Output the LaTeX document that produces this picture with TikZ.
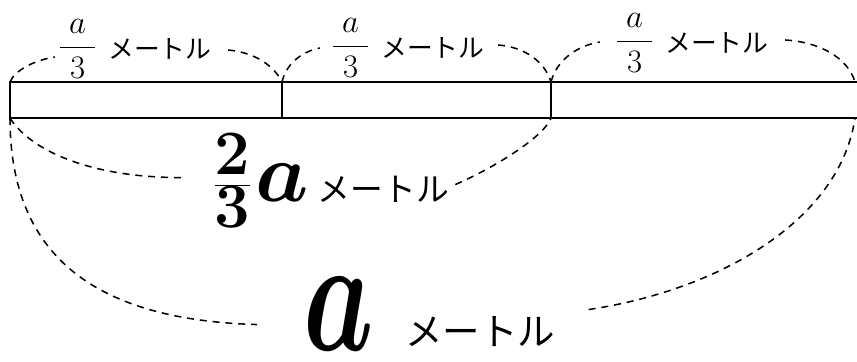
\RequirePackage{fix-cm}
\documentclass[tikz,border=0pt]{standalone}
\usepackage{amsmath,bm}
\usepackage{graphicx}
\usepackage{fontspec}
\newfontfamily\jpfont{Noto Sans CJK JP}
\usetikzlibrary{calc}
\newcommand{\fsz}[1]{\fontsize{#1pt}{#1pt}\selectfont}
\newcommand{\thirdlabel}{$\dfrac{\;a\;}{\;3\;}$\hspace{10pt}\raisebox{-2.5pt}{\jpfont\fsz{22}メートル}}
\newcommand{\twothirdslabel}{{\fsz{54}$\bm{\tfrac{\textstyle 2}{\textstyle 3}}$}\hspace{3pt}{\fsz{72}$\bm{a}$}\hspace{8pt}{\jpfont\fsz{28}メートル}}
\newcommand{\wholelabel}{\scalebox{0.85}[1.25]{\fsz{112}$\bm{a}$}\hspace{27pt}\raisebox{4pt}{\jpfont\fsz{32}メートル}}

\begin{document}
\begin{tikzpicture}[x=0.03cm,y=-0.03cm,
    dimarc/.style={line width=1.3pt,dash pattern=on 6pt off 5pt},
    barline/.style={line width=1.5pt},
    thirdlbl/.style={inner xsep=3pt,inner ysep=0pt,font=\fsz{28}}]
  \useasboundingbox (0,0) rectangle (857,362);
  % the bar, cut in three
  \coordinate (tl) at (10,82);
  \coordinate (bl) at (10,118);
  \coordinate (tr) at (857,82);
  \coordinate (br) at (857,118);
  \coordinate (m1t) at (282,82);
  \coordinate (m1b) at (282,118);
  \coordinate (m2t) at (551,82);
  \coordinate (m2b) at (551,118);
  \draw[barline] (tr) -- (tl) -- (bl) -- (br);
  \draw[barline] (m1t) -- (m1b);
  \draw[barline] (m2t) -- (m2b);
  % a/3 above each part
  \node[thirdlbl] (t1) at (135,49) {\thirdlabel};
  \node[thirdlbl] (t2) at (408,48) {\thirdlabel};
  \node[thirdlbl] (t3) at (692,43) {\thirdlabel};
  \draw[dimarc] (tl) .. controls (15,70) and (35,60) .. ($(t1.west)+(0,8)$);
  \draw[dimarc] ($(t1.east)+(13,1)$) .. controls (250,52) and (272,62) .. (m1t);
  \draw[dimarc] (m1t) .. controls (286,65) and (300,52) .. ($(t2.west)+(-8,0)$);
  \draw[dimarc] ($(t2.east)+(10,-3)$) .. controls (525,47) and (545,62) .. (m2t);
  \draw[dimarc] (m2t) .. controls (556,62) and (575,46) .. ($(t3.west)+(-12,-1)$);
  \draw[dimarc] ($(t3.east)+(13,-3)$) .. controls (820,42) and (848,58) .. (855,82);
  % 2/3 a below two parts
  \node[anchor=base west,inner sep=0pt] (twothirds) at (213,201) {\twothirdslabel};
  \draw[dimarc] (bl) .. controls (30,150) and (90,178) .. ($(twothirds.west)+(-30,-3)$);
  \draw[dimarc] ($(twothirds.east)+(6,4)$) .. controls (500,165) and (545,135) .. (m2b);
  % a below the whole bar
  \node[anchor=base west,inner sep=0pt] (whole) at (303,350) {\wholelabel};
  \draw[dimarc] (bl) .. controls (10,260) and (100,320) .. ($(whole.west)+(-46,11)$);
  \draw[dimarc] ($(whole.east)+(33,-4)$) .. controls (720,290) and (840,220) .. (855,118);
\end{tikzpicture}
\end{document}
